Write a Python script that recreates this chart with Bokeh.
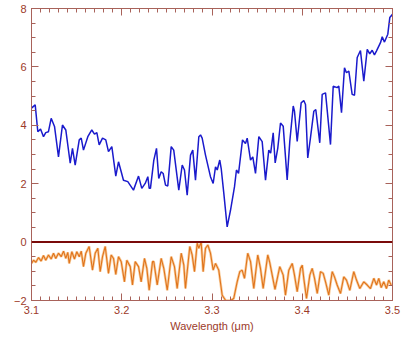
from bokeh.plotting import figure
from bokeh.models import LinearAxis, SingleIntervalTicker, Range1d, Span, CustomJSTickFormatter
from bokeh.embed import file_html
from bokeh.resources import INLINE

# Blue spectrum (upper curve)
blue_x = [3.1000, 3.1041, 3.1070, 3.1100, 3.1133, 3.1158, 3.1188, 3.1218, 3.1255, 3.1299,
          3.1343, 3.1380, 3.1429, 3.1454, 3.1484, 3.1529, 3.1551, 3.1576, 3.1624, 3.1668,
          3.1698, 3.1724, 3.1750, 3.1787, 3.1823, 3.1853, 3.1890, 3.1934, 3.1964, 3.1994,
          3.2019, 3.2067, 3.2130, 3.2186, 3.2222, 3.2260, 3.2289, 3.2304, 3.2318, 3.2355,
          3.2385, 3.2410, 3.2437, 3.2459, 3.2485, 3.2510, 3.2548, 3.2576, 3.2632, 3.2670,
          3.2695, 3.2725, 3.2762, 3.2787, 3.2817, 3.2854, 3.2873, 3.2891, 3.2928, 3.2983,
          3.3013, 3.3039, 3.3058, 3.3086, 3.3102, 3.3131, 3.3168, 3.3205, 3.3249, 3.3271,
          3.3294, 3.3338, 3.3371, 3.3390, 3.3427, 3.3452, 3.3482, 3.3519, 3.3556, 3.3593,
          3.3629, 3.3650, 3.3678, 3.3700, 3.3729, 3.3759, 3.3789, 3.3833, 3.3862, 3.3900,
          3.3914, 3.3944, 3.3988, 3.4017, 3.4036, 3.4061, 3.4091, 3.4128, 3.4150, 3.4194,
          3.4221, 3.4258, 3.4313, 3.4343, 3.4387, 3.4405, 3.4435, 3.4468, 3.4490, 3.4516,
          3.4553, 3.4579, 3.4609, 3.4645, 3.4682, 3.4720, 3.4748, 3.4775, 3.4800, 3.4823,
          3.4867, 3.4886, 3.4911, 3.4948, 3.4970, 3.5000]
blue_y = [4.59, 4.70, 3.78, 3.87, 3.61, 3.75, 3.78, 4.24, 3.96, 2.92,
          4.01, 3.84, 2.70, 3.21, 2.64, 3.50, 3.56, 3.15, 3.61, 3.84,
          3.70, 3.75, 3.33, 3.56, 3.50, 3.10, 3.27, 2.26, 2.75, 2.41,
          2.12, 2.07, 1.78, 2.26, 1.84, 2.01, 2.24, 1.84, 1.84, 2.80,
          3.21, 2.18, 2.41, 2.35, 1.95, 1.92, 3.27, 3.15, 1.78, 2.64,
          2.47, 1.61, 2.98, 3.15, 2.12, 3.61, 3.67, 3.56, 2.98, 2.24,
          2.01, 2.58, 2.47, 2.81, 2.52, 1.67, 0.52, 1.09, 1.89, 2.47,
          2.35, 3.50, 3.38, 3.56, 2.81, 2.92, 2.35, 3.61, 3.44, 2.12,
          3.15, 3.05, 3.74, 2.71, 3.22, 4.08, 3.97, 2.13, 3.45, 4.66,
          4.48, 3.45, 4.77, 4.85, 4.71, 2.88, 3.57, 4.48, 4.54, 3.40,
          5.06, 5.11, 3.34, 5.34, 5.29, 5.34, 4.43, 5.97, 5.80, 5.86,
          5.06, 5.03, 6.32, 6.56, 5.51, 6.60, 6.45, 6.57, 6.41, 6.55,
          6.83, 7.03, 6.85, 7.12, 7.69, 7.80]

# Orange residual (lower curve)
orange_x = [3.1000, 3.1022, 3.1048, 3.1078, 3.1107, 3.1133, 3.1158, 3.1188, 3.1218, 3.1244,
            3.1269, 3.1299, 3.1329, 3.1355, 3.1380, 3.1402, 3.1418, 3.1447, 3.1476, 3.1502,
            3.1529, 3.1551, 3.1576, 3.1602, 3.1639, 3.1676, 3.1706, 3.1735, 3.1761, 3.1787,
            3.1817, 3.1853, 3.1883, 3.1909, 3.1934, 3.1964, 3.1994, 3.2030, 3.2056, 3.2094,
            3.2119, 3.2149, 3.2186, 3.2215, 3.2252, 3.2278, 3.2304, 3.2341, 3.2355, 3.2393,
            3.2437, 3.2466, 3.2504, 3.2548, 3.2584, 3.2614, 3.2659, 3.2688, 3.2706, 3.2754,
            3.2780, 3.2806, 3.2836, 3.2854, 3.2880, 3.2902, 3.2928, 3.2954, 3.2983, 3.3013,
            3.3039, 3.3075, 3.3113, 3.3150, 3.3205, 3.3241, 3.3279, 3.3308, 3.3334, 3.3360,
            3.3396, 3.3427, 3.3463, 3.3507, 3.3537, 3.3567, 3.3618, 3.3640, 3.3698, 3.3751,
            3.3789, 3.3814, 3.3851, 3.3889, 3.3914, 3.3944, 3.3981, 3.4000, 3.4017, 3.4047,
            3.4084, 3.4110, 3.4136, 3.4166, 3.4202, 3.4232, 3.4258, 3.4294, 3.4332, 3.4357,
            3.4387, 3.4424, 3.4460, 3.4490, 3.4527, 3.4571, 3.4601, 3.4638, 3.4682, 3.4720,
            3.4756, 3.4793, 3.4823, 3.4848, 3.4875, 3.4903, 3.4933, 3.4958, 3.4985]
orange_y = [-0.73, -0.62, -0.69, -0.53, -0.65, -0.46, -0.62, -0.44, -0.58, -0.38,
            -0.56, -0.38, -0.50, -0.31, -0.56, -0.35, -0.73, -0.33, -0.58, -0.33,
            -0.50, -0.31, -0.84, -0.38, -0.15, -0.96, -0.38, -0.21, -1.01, -0.50,
            -0.15, -1.07, -0.44, -0.56, -1.11, -0.50, -0.67, -1.36, -0.62, -0.84,
            -1.47, -0.67, -0.84, -1.36, -0.56, -0.90, -1.65, -0.67, -0.67, -1.47,
            -0.56, -0.90, -1.65, -0.50, -0.84, -1.59, -0.38, -0.79, -1.59, -0.15,
            -0.44, -1.01, -0.04, -0.21, 0.00, -1.01, -0.21, -0.10, -0.38, -0.96,
            -0.73, -0.96, -1.82, -1.99, -2.00, -1.93, -1.36, -1.01, -0.96, -1.24,
            -0.38, -0.67, -1.59, -0.44, -0.90, -1.59, -0.44, -0.70, -1.62, -0.84,
            -1.13, -1.82, -0.96, -0.73, -1.13, -1.70, -0.90, -0.79, -1.24, -1.93,
            -1.13, -0.90, -1.24, -1.76, -1.01, -1.07, -1.36, -1.82, -1.01, -1.19,
            -1.47, -1.76, -1.19, -1.30, -1.65, -1.01, -1.30, -1.59, -1.36, -1.47,
            -1.59, -1.24, -1.47, -1.24, -1.56, -1.36, -1.59, -1.30, -1.47]

x_ticks = [3.1, 3.2, 3.3, 3.4, 3.5]
y_ticks = [-2, 0, 2, 4, 6, 8]

AXIS_COL = "#a8625a"
LABEL_COL = "#9c3a2a"
FONT = "Liberation Sans"

p = figure(width=410, height=338, output_backend="svg", toolbar_location=None,
           x_range=Range1d(3.1, 3.5), y_range=Range1d(-2, 8),
           min_border_left=31, min_border_right=18, min_border_top=8, min_border_bottom=38,
           x_axis_type=None, y_axis_type=None)
p.xgrid.visible = False
p.ygrid.visible = False
p.outline_line_color = None
p.background_fill_color = "white"
p.border_fill_color = "white"


def style(ax):
    ax.axis_line_color = AXIS_COL
    ax.major_tick_line_color = AXIS_COL
    ax.minor_tick_line_color = AXIS_COL
    ax.major_tick_in = 7
    ax.major_tick_out = 0
    ax.minor_tick_in = 4
    ax.minor_tick_out = 0
    ax.major_label_text_color = LABEL_COL
    ax.major_label_text_font = FONT
    ax.major_label_text_font_size = "11px"
    ax.major_label_standoff = 5
    ax.axis_label_text_font = FONT
    ax.axis_label_text_font_style = "normal"
    ax.axis_label_text_color = LABEL_COL
    ax.axis_label_text_font_size = "11px"


bottom = LinearAxis(ticker=SingleIntervalTicker(interval=0.1, num_minor_ticks=10),
                    axis_label="Wavelength (μm)", axis_label_standoff=3)
style(bottom)
p.add_layout(bottom, "below")

top = LinearAxis(ticker=SingleIntervalTicker(interval=0.1, num_minor_ticks=10),
                 formatter=CustomJSTickFormatter(code="return ''"))
style(top)
p.add_layout(top, "above")

left = LinearAxis(ticker=SingleIntervalTicker(interval=2, num_minor_ticks=4))
style(left)
p.add_layout(left, "left")

right = LinearAxis(ticker=SingleIntervalTicker(interval=2, num_minor_ticks=4),
                   formatter=CustomJSTickFormatter(code="return ''"))
style(right)
p.add_layout(right, "right")

p.add_layout(Span(location=0, dimension="width", line_color="#7a0a0a", line_width=2))

p.line(orange_x, orange_y, line_color="#f8cc9c", line_width=2.6)
p.line(orange_x, orange_y, line_color="#e0741c", line_width=1.1)
p.line(blue_x, blue_y, line_color="#1a1acc", line_width=1.5)

open("out.html", "w").write(file_html(p, INLINE))
